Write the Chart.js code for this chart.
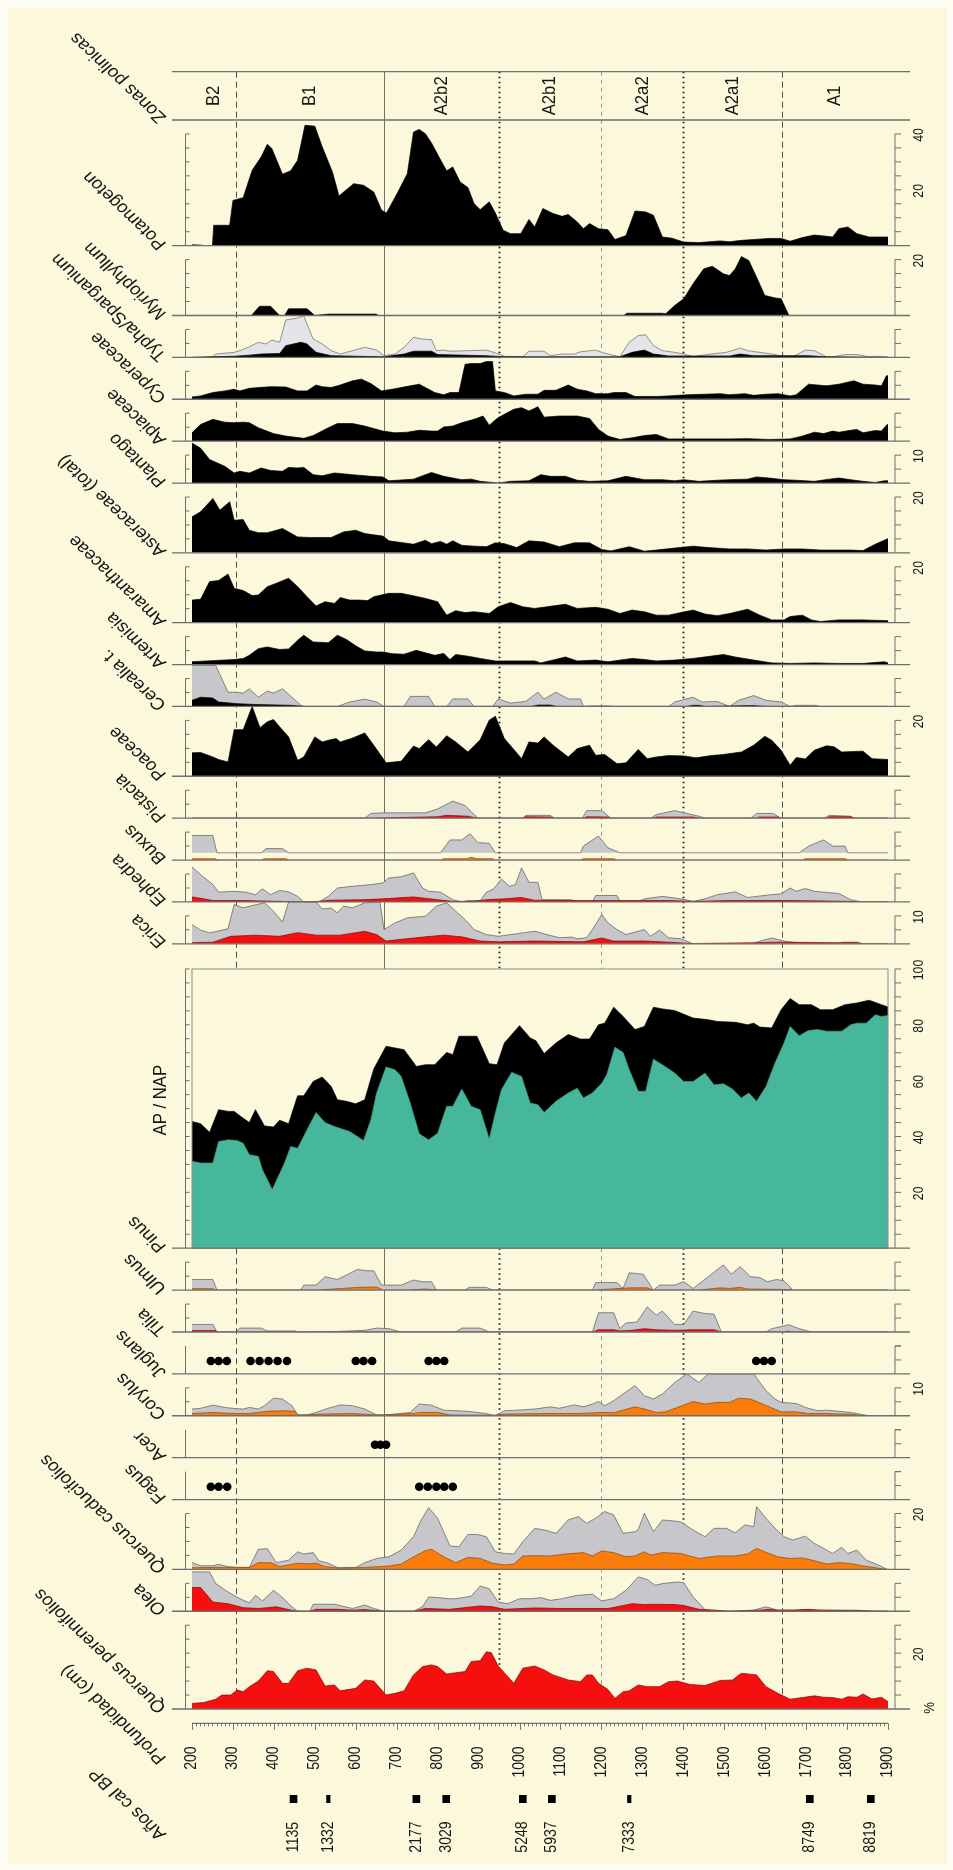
<!DOCTYPE html>
<html>
<head>
<meta charset="utf-8">
<title>Diagrama polínico</title>
<script src="https://cdn.jsdelivr.net/npm/chart.js@4.4.1/dist/chart.umd.min.js"></script>
<style>
  html, body { margin: 0; padding: 0; background: #fefdf5; }
  canvas { display: block; }
</style>
</head>
<body>
<canvas id="diagrama" width="953" height="1870"></canvas>
<script>
// ---------- depth axis ----------
const depthMin = 200;
const depthMax = 1900;
const depthTickLabels = ['200','300','400','500','600','700','800','900','1000','1100','1200','1300','1400','1500','1600','1700','1800','1900'];

// ---------- pollen zones ----------
const zoneNames = ['B2', 'B1', 'A2b2', 'A2b1', 'A2a2', 'A2a1', 'A1'];
const zoneBounds = [200, 308, 669, 950, 1200, 1400, 1640, 1900];
const zoneLineStyles = ['dashed', 'solid', 'dotted', 'thin', 'dotted', 'dashed'];

// ---------- radiocarbon dates (cal BP) ----------
const dateDepths = [448, 533, 748, 821, 1008, 1079, 1268, 1709, 1858];
const dateAges = ['1135', '1332', '2177', '3029', '5248', '5937', '7333', '8749', '8819'];
const dateNarrow = [false, true, false, false, false, false, true, false, false];

// ---------- taxa: [depth (cm), %] ----------
const potamogeton = [[200,0.3],[222,0.2],[228,0],[250,0],[253,7.3],[292,7.3],[300,16.2],[325,17.2],[347,27],[369,31.8],[384,36.3],[395,34.8],[421,25.6],[441,26.8],[458,30.6],[476,43.1],[500,42.8],[518,35.4],[543,26.4],[559,17.8],[580,20.4],[595,22.2],[619,21.6],[644,19.2],[663,12.7],[675,11.7],[703,19.2],[726,25.8],[741,40.7],[755,41.6],[770,40.1],[785,36.8],[803,31.8],[822,26.8],[837,28.2],[855,22.8],[874,20.8],[889,15],[904,12.9],[926,15.7],[941,11.7],[960,5.5],[978,4.3],[1003,4.3],[1023,9.4],[1037,6.7],[1057,13.3],[1082,11.5],[1104,10.5],[1119,11.2],[1141,8.5],[1156,6.1],[1171,7.9],[1193,6.1],[1216,5.7],[1233,2.2],[1260,3.6],[1282,12.4],[1308,12.1],[1327,10.9],[1349,3.1],[1372,2.7],[1401,1.3],[1438,1.1],[1490,1.7],[1513,1.4],[1542,1.9],[1572,2.2],[1609,2.6],[1639,2.6],[1661,1.6],[1691,2.9],[1720,3.8],[1743,3.5],[1765,3.1],[1780,6.1],[1802,6.7],[1824,4.3],[1854,3.1],[1900,3.1]];

const myriophyllum = [[200,0],[345,0],[365,3.3],[392,3.3],[414,0],[426,0],[436,2.4],[481,2.4],[500,0],[533,0.5],[650,0.5],[655,0],[1255,0],[1262,0.8],[1349,0.8],[1357,0.6],[1379,3.6],[1401,6],[1424,11.4],[1450,16.7],[1471,17.6],[1498,14.9],[1513,14.3],[1527,16.7],[1542,21.1],[1560,19.7],[1579,13.7],[1599,7.2],[1624,6.3],[1639,6],[1658,0],[1900,0]];

const typhaExag = [[200,0],[236,0],[251,0.2],[258,1.2],[303,1.8],[317,2.4],[340,3.8],[362,5.4],[380,4.8],[395,6.2],[414,5.4],[429,13.4],[458,14.1],[473,14.9],[481,11.9],[496,6.6],[518,4.8],[540,2.4],[562,1.2],[592,2.4],[622,3.6],[651,2.6],[669,0.6],[696,1.2],[718,3.6],[741,7.2],[763,6.5],[785,6.4],[797,2.4],[815,2.6],[830,2.2],[919,2.6],[941,1.6],[963,0.4],[1008,0.2],[1023,2.2],[1060,2.2],[1075,0.6],[1104,1.2],[1134,1.2],[1149,2],[1186,2.6],[1201,1.8],[1216,1.2],[1245,0.2],[1268,5.4],[1290,7.8],[1308,8.1],[1327,4.2],[1349,2.4],[1379,1.8],[1401,1.2],[1424,0.2],[1438,0.6],[1468,1.2],[1505,1.8],[1539,3.3],[1557,2.4],[1587,1.8],[1624,1],[1646,0.2],[1668,0.2],[1698,2.6],[1720,2.4],[1750,0.2],[1765,0.2],[1795,1],[1824,1],[1854,0.2],[1869,0.4],[1891,0.2],[1900,0.2]];
const typha = [[200,0],[243,0.2],[303,0.4],[340,0.8],[369,1.2],[414,1.4],[429,4.2],[466,5.4],[481,4.8],[503,1.8],[540,0.6],[669,0.2],[718,1.2],[741,2.2],[785,2.2],[800,1],[919,0.6],[963,0.2],[1245,0.2],[1275,1.8],[1305,2.6],[1327,1.2],[1364,0.5],[1513,0.5],[1539,1.2],[1572,0.6],[1706,0.6],[1750,0.2],[1900,0]];

const cyperaceae = [[200,0.8],[221,1.2],[251,2.4],[280,3],[303,3.6],[317,3],[340,3.9],[362,4.2],[392,4.5],[429,4.4],[458,3],[481,3],[503,5.1],[518,4.5],[540,4.2],[562,5.1],[592,6.6],[614,7.2],[637,5.6],[663,3],[689,3.6],[711,4.2],[733,4.8],[755,5.4],[770,4.2],[793,2.4],[815,1.6],[830,2.4],[852,2.4],[867,12.5],[882,12.8],[904,12.8],[919,13.5],[934,13.5],[941,3],[963,2.4],[986,1.2],[1015,1.8],[1045,1.8],[1060,3.2],[1089,3.2],[1119,5.1],[1141,3.6],[1164,3],[1186,2],[1216,2],[1230,2.4],[1260,2.4],[1282,1],[1334,1],[1364,1.2],[1409,1.6],[1453,1.8],[1490,2],[1513,1.6],[1550,2],[1572,1.4],[1602,1.8],[1631,2],[1661,1.2],[1676,1.6],[1706,5.4],[1728,5.1],[1750,4.8],[1780,5.4],[1817,6.6],[1839,5.4],[1869,5.1],[1884,4.8],[1896,8.4],[1900,8.4]];

const apiaceae = [[200,3],[221,6],[251,7.8],[280,6.8],[303,6.6],[325,6.8],[340,6.6],[362,4.8],[399,2.7],[429,1.8],[473,1],[496,2],[533,4.8],[555,6.3],[592,6.3],[622,5.4],[666,3.6],[696,3],[726,3.2],[755,3.9],[785,3.6],[800,3.6],[815,5.1],[837,5.4],[859,6.6],[889,7.8],[911,9],[926,5.7],[945,8.1],[963,9.6],[986,11.4],[1005,12],[1023,10.8],[1045,12.3],[1060,8.6],[1097,9],[1141,9],[1171,8.1],[1193,4.2],[1216,1.8],[1245,0.6],[1275,1.2],[1305,2],[1334,2.4],[1364,0.8],[1513,0.8],[1557,0.9],[1609,0.6],[1661,0.8],[1691,1.8],[1720,3.2],[1743,2.7],[1765,3.6],[1780,3.2],[1809,3.9],[1824,4.2],[1839,3],[1869,3.8],[1884,3.6],[1898,6],[1900,6]];

const plantago = [[200,14.3],[221,12.5],[243,8.4],[280,6],[303,3.6],[317,4.2],[340,3.6],[369,5.4],[392,4.5],[421,4.2],[436,5.6],[458,5.4],[473,5.6],[496,3],[518,2.6],[548,3.6],[592,3],[637,2.4],[666,2.2],[681,0.8],[741,1.4],[785,3.8],[815,2.4],[859,1.2],[882,1.4],[904,0.6],[934,0.2],[948,0],[978,0.6],[1023,0.8],[1052,3],[1075,2.4],[1112,2.4],[1141,1],[1171,0.6],[1216,0.8],[1260,2.4],[1282,1.8],[1305,1.2],[1349,1.2],[1379,0.8],[1401,1.2],[1438,0.6],[1483,1],[1513,1.2],[1557,1.4],[1579,2.2],[1609,1.8],[1646,1.2],[1676,1],[1720,0.6],[1757,1.4],[1780,1.8],[1809,1.2],[1839,0.6],[1869,0.2],[1891,0.8],[1900,0.8]];

const asteraceae = [[200,12.9],[221,14.7],[251,19.5],[268,15.3],[292,18.3],[303,11.7],[325,11.9],[340,8.1],[362,7.2],[384,7.2],[421,8.7],[458,5.7],[488,5.5],[540,5.5],[570,7.5],[600,8.1],[622,6.9],[666,6],[681,4.3],[741,3.1],[770,4.5],[785,3.3],[807,4.1],[822,3.1],[837,4.3],[859,2.7],[889,2.4],[919,2.2],[941,3.6],[963,3.3],[993,1.9],[1023,4.3],[1060,3.9],[1097,2.2],[1134,3.6],[1171,3.6],[1201,1.2],[1223,0.7],[1268,2.2],[1305,0.6],[1334,1],[1379,1.7],[1424,2.4],[1461,1.9],[1513,1.4],[1557,1.4],[1602,1],[1646,1.4],[1691,1.4],[1735,1],[1809,1],[1839,0.8],[1869,3.1],[1900,5.1]];

const amaranthaceae = [[200,8.1],[221,8.4],[243,14.7],[265,15.1],[288,17.4],[303,12.3],[325,11.5],[347,9.7],[362,9.9],[384,12.9],[406,14.1],[436,15.9],[458,12.9],[481,9.3],[503,6],[525,7.5],[548,6.9],[562,9],[585,8.1],[607,8.1],[629,7.9],[644,9.3],[681,10.5],[711,10.5],[741,9.6],[770,8.7],[800,7.5],[822,2.7],[844,4.3],[867,3.6],[889,3.9],[926,3.3],[948,5.7],[978,7.2],[1008,5.7],[1037,5.1],[1067,5.7],[1112,6.6],[1141,5.1],[1186,5.5],[1216,4.8],[1245,3.3],[1275,4.5],[1305,3.9],[1334,2.7],[1364,2.7],[1394,3.6],[1424,4.5],[1453,3.1],[1483,2.5],[1513,3.3],[1557,4.8],[1587,2.7],[1616,1],[1646,1],[1661,2.2],[1691,2.7],[1713,1],[1735,0.4],[1780,1],[1839,1],[1900,0.7]];

const artemisia = [[200,1],[236,1.3],[303,1.8],[325,2.2],[340,3.3],[362,5.7],[384,6.3],[414,5.4],[436,5.6],[458,8.7],[473,10.5],[496,8.1],[533,7.8],[555,10.5],[577,9],[600,6.7],[622,4.9],[651,4.5],[666,4.5],[689,3.9],[718,3.7],[748,5.1],[770,4.2],[793,3.3],[815,4],[830,1.8],[844,3.6],[874,3],[904,2.2],[919,1.8],[941,1.3],[978,1.3],[1037,1.3],[1052,0.6],[1082,1.6],[1112,2.7],[1141,1.3],[1186,1.6],[1216,1],[1275,2.2],[1305,1.8],[1334,1.3],[1379,1.6],[1424,2.2],[1483,3.3],[1498,3.6],[1527,2.7],[1572,1.6],[1616,0.6],[1661,0.4],[1720,0.6],[1780,0.4],[1839,0.4],[1891,1],[1900,0.6]];

const cerealiaExag = [[200,14.7],[258,14.7],[288,5.1],[303,5.1],[325,4.8],[340,6.3],[362,3.3],[384,5.5],[399,4.8],[421,6.3],[444,3.3],[466,0.4],[473,0],[555,0],[585,1.6],[622,2.6],[651,1.6],[669,0],[718,0],[733,3.6],[778,3.6],[793,0],[822,0],[837,2.7],[874,2.7],[889,0],[934,0],[948,2.7],[978,1.2],[1015,1.8],[1045,5.1],[1060,2.7],[1089,5.1],[1119,2.7],[1149,2.7],[1156,0],[1178,0.2],[1216,0.2],[1230,0],[1364,0],[1379,1.6],[1424,3.3],[1446,1.6],[1483,1.8],[1513,0],[1535,2.2],[1572,3.9],[1602,2.2],[1639,1.6],[1661,0],[1676,0.4],[1720,0.4],[1735,0],[1900,0]];
const cerealia = [[200,2.2],[221,3.3],[251,3],[265,1.6],[310,1],[355,0.7],[444,0.4],[473,0],[1030,0],[1045,0.5],[1075,0.5],[1090,0],[1409,0],[1424,0.4],[1438,0.4],[1453,0],[1572,0.3],[1600,0],[1900,0]];

const poaceae = [[200,8.4],[221,8.5],[251,6.9],[265,6],[288,5.1],[303,16.7],[325,16.7],[347,25],[366,17.4],[384,19.5],[399,20.3],[414,17.7],[436,14.1],[458,5.7],[473,6.9],[500,14.1],[518,12.3],[533,12.9],[552,13.5],[562,12.3],[589,13.5],[622,15.5],[644,11.1],[674,4.8],[711,5.4],[741,10.8],[755,9.9],[778,13.1],[797,10.5],[822,14.5],[844,12.3],[874,8.7],[904,13.1],[926,20.1],[941,21.5],[963,13.5],[986,9.6],[1005,6.3],[1023,12.3],[1045,11.9],[1060,14.1],[1082,11.1],[1119,6.9],[1141,9.9],[1171,11.1],[1186,7.5],[1208,7.8],[1238,4.5],[1260,4.8],[1290,9.6],[1312,6.3],[1334,6.9],[1364,7.4],[1401,7.3],[1431,6.6],[1468,7.4],[1498,7.8],[1542,8.7],[1572,11.1],[1599,14.3],[1616,12.9],[1639,9.3],[1661,3.9],[1676,6.7],[1698,6.2],[1720,9.3],[1750,10.9],[1768,10.6],[1787,8.7],[1839,9],[1861,6.3],[1900,6]];

const pistaciaExag = [[200,0],[622,0],[637,1.7],[666,1.9],[770,1.9],[800,3.3],[837,6.1],[867,4.5],[889,1.3],[899,0],[1008,0],[1015,1],[1075,1],[1085,0],[1153,0],[1164,2.7],[1201,2.7],[1223,0],[1320,0],[1334,1.3],[1379,2.7],[1438,0.7],[1453,0],[1565,0],[1579,1.7],[1619,1.7],[1639,0],[1743,0],[1757,1],[1809,0.7],[1817,0],[1900,0]];
const pistacia = [[200,0],[637,0],[800,0.5],[822,1],[874,0.7],[896,0],[1008,0],[1015,0.5],[1075,0.4],[1085,0],[1157,0],[1164,0.5],[1216,0.4],[1223,0],[1327,0],[1334,0.4],[1424,0.4],[1438,0],[1579,0],[1585,0.4],[1631,0.4],[1639,0],[1750,0],[1757,0.5],[1809,0.5],[1817,0],[1900,0]];

const buxusExagBase = 2.6;
const buxusExag = [[200,8.8],[251,8.8],[261,2.6],[369,2.6],[381,4.1],[421,4.1],[436,2.6],[807,2.6],[830,7.2],[859,7.2],[879,9.4],[899,6.2],[926,6],[941,2.6],[1149,2.6],[1156,5],[1193,8.6],[1216,4.4],[1245,2.6],[1683,2.6],[1706,5],[1743,7.2],[1765,5],[1795,5],[1802,2.6],[1900,2.6]];
const buxus = [[200,0.5],[258,0.5],[261,0],[369,0],[377,0.5],[429,0.5],[436,0],[807,0],[815,0.5],[870,0.5],[882,1],[896,0.5],[934,0.5],[941,0],[1149,0],[1156,0.5],[1230,0.5],[1238,0],[1691,0],[1698,0.5],[1795,0.5],[1802,0],[1900,0]];

const ephedraExag = [[200,12.5],[221,9.8],[251,6.2],[265,3.5],[303,3.8],[332,3.5],[355,2.6],[372,4.7],[392,2.6],[414,4.1],[436,3.6],[458,2],[473,0],[510,0],[533,2],[555,5],[592,5.6],[637,6.2],[666,6.8],[681,8.6],[711,9],[741,10.4],[763,5],[778,3.8],[807,3.5],[837,0.8],[859,0],[874,0.5],[904,0.5],[919,3.5],[937,4.7],[956,8.2],[975,5.6],[990,6.2],[1005,12.2],[1023,7],[1045,7],[1055,0.8],[1127,0.8],[1141,0],[1178,0],[1186,2.3],[1238,2.3],[1245,0.2],[1290,0.2],[1305,1.1],[1349,2],[1394,1.1],[1424,0.2],[1453,1.1],[1483,2.6],[1527,3.6],[1557,1.6],[1609,2.5],[1639,2.9],[1661,5],[1676,3.8],[1698,4.8],[1720,3.8],[1743,3.5],[1780,3],[1809,0.8],[1836,0],[1900,0]];
const ephedra = [[200,1.8],[221,1.3],[251,0.5],[325,0.5],[473,0],[510,0.2],[533,0.6],[622,0.8],[666,1.1],[741,1.8],[800,0.8],[837,0.2],[889,0.2],[919,0.8],[963,1.1],[1005,1.6],[1037,0.6],[1127,0.5],[1290,0.5],[1364,0.5],[1424,0.2],[1513,0.5],[1661,0.5],[1809,0.2],[1836,0],[1900,0]];

const ericaExag = [[200,6.9],[221,4.9],[243,3.9],[288,5.4],[303,14.1],[325,12.9],[347,13.7],[377,14.7],[399,11.7],[421,7.8],[436,15],[503,15],[518,12.5],[540,12.8],[555,11.1],[570,13.5],[592,12.9],[622,14.7],[659,15],[669,5.1],[696,7.5],[726,9.3],[770,9.9],[797,13.5],[822,14.7],[844,11.7],[867,8.7],[889,5.1],[919,3.3],[948,2.7],[1008,3.9],[1037,4.5],[1067,3.3],[1097,2.2],[1127,2.4],[1141,1.8],[1164,2.2],[1178,5.1],[1201,10.5],[1216,7.5],[1238,5.1],[1260,3.3],[1282,4.2],[1305,5.1],[1320,2.7],[1342,4.9],[1364,2.2],[1394,1.8],[1424,0],[1572,0],[1579,0.6],[1616,2.1],[1646,1],[1676,0.4],[1780,0],[1787,0.6],[1824,0.6],[1839,0],[1900,0]];
const erica = [[200,0.4],[251,0.6],[295,2.7],[355,3.1],[414,2.7],[458,4],[503,3.1],[562,3.1],[622,4.5],[651,3.3],[674,1],[711,1.6],[770,2.5],[815,3.1],[859,2.5],[904,1],[948,0.7],[1037,1],[1156,0.7],[1201,2.1],[1230,1],[1305,1],[1364,0.6],[1424,0.1],[1572,0.4],[1631,0.6],[1780,0.4],[1824,0.4],[1839,0],[1900,0]];

// arboreal pollen total (AP) and Pinus, % of the pollen sum
const arborealTotal = [[200,45.4],[221,44.6],[243,41.5],[265,49.6],[288,49],[303,49],[317,47.4],[340,45],[355,49.6],[377,43.8],[399,43.4],[414,45.8],[436,44.6],[458,54.6],[473,54.6],[496,59.7],[518,61.3],[540,57.9],[555,53.2],[577,52.6],[600,51.7],[622,53.2],[644,64.2],[674,72.3],[696,71.7],[718,71.1],[748,65.1],[770,65.7],[793,65.7],[822,70.1],[837,69.3],[852,75.9],[896,75.9],[926,66.1],[945,65.7],[963,73.5],[1000,79.7],[1026,75.3],[1040,74.3],[1060,69.7],[1089,73.5],[1119,76.5],[1149,74.9],[1171,74.9],[1193,80],[1208,80.6],[1230,86.3],[1253,83],[1282,78.3],[1305,79.4],[1327,86.3],[1349,85.7],[1379,85.1],[1424,82.4],[1461,81.8],[1483,81.2],[1527,80.9],[1557,80],[1572,80.6],[1587,79.2],[1616,78.9],[1639,85.4],[1661,89.4],[1683,87.2],[1713,87.2],[1735,85.4],[1765,85.4],[1795,87.2],[1824,87.8],[1854,88.8],[1884,87.2],[1900,86.4]];
const pinus = [[200,31.1],[221,30.5],[251,30.5],[265,38.2],[288,38.8],[310,38.6],[325,37.6],[340,33.5],[362,32.9],[372,28.1],[396,21],[426,30.5],[441,36.4],[458,35.8],[481,42.4],[503,48.6],[525,45],[548,43.6],[585,41.8],[619,38.6],[637,46],[651,55.6],[674,64.9],[696,63.9],[711,61.5],[733,52],[755,41],[778,38.8],[800,41.2],[822,50.8],[837,50.8],[859,57],[882,50.8],[904,49.6],[926,39.1],[941,48.4],[956,56.8],[981,63],[1005,61.5],[1026,52],[1045,51.4],[1060,48.6],[1089,52.6],[1119,55.6],[1141,57.3],[1156,53.8],[1178,55.6],[1201,59.1],[1213,62.1],[1233,72],[1253,70.1],[1268,63.9],[1290,56.2],[1308,56.2],[1327,67.7],[1349,65.7],[1379,62.7],[1401,59.7],[1424,59.7],[1453,62.7],[1475,58.5],[1498,58.9],[1520,57],[1542,53.8],[1560,55.6],[1579,52.6],[1602,57.9],[1624,66.3],[1646,73.5],[1661,79.4],[1683,76.1],[1706,78],[1728,78.3],[1750,77.7],[1787,77.7],[1809,80],[1824,80.6],[1847,80.6],[1869,83.6],[1884,83],[1900,83.3]];

const ulmusExag = [[200,3.8],[251,3.8],[261,0],[466,0],[473,1.8],[503,1.8],[525,4.8],[555,3.8],[577,5.4],[604,7.4],[629,6.9],[644,6.9],[663,1.8],[711,1.8],[741,3.6],[763,3],[785,3],[797,0],[867,0],[877,1],[919,1],[934,0],[1178,0],[1186,2.7],[1238,2.7],[1253,0.6],[1268,6.2],[1302,5.7],[1327,0],[1342,1.8],[1379,1.8],[1401,3],[1424,0.6],[1461,4.8],[1498,9],[1517,5.7],[1539,8.4],[1564,4.8],[1587,4.5],[1605,3],[1628,3.8],[1646,3.3],[1668,0],[1900,0]];
const ulmus = [[200,0.5],[251,0.5],[258,0],[503,0],[577,0.7],[607,1],[651,1.1],[666,0],[726,0],[770,0.4],[800,0],[1186,0],[1201,0.2],[1268,0.8],[1312,0.8],[1327,0],[1438,0],[1490,0.8],[1513,0.6],[1539,1],[1557,0.4],[1661,0.2],[1668,0],[1900,0]];

const tiliaExag = [[200,2.7],[251,2.7],[261,0],[307,0],[317,1.4],[369,1.4],[384,0.4],[451,0.4],[458,0],[555,0.2],[622,0.6],[651,1.4],[681,1.2],[711,0],[844,0],[859,1.4],[904,1.4],[926,0],[1178,0],[1193,6.9],[1230,6.9],[1245,1.2],[1260,3.2],[1287,3.6],[1312,9],[1334,6],[1349,7.5],[1379,2.7],[1401,2.7],[1424,7.5],[1453,6.6],[1475,6.4],[1493,0],[1602,0],[1616,1.2],[1658,2.6],[1683,1.2],[1713,0],[1900,0]];
const tilia = [[200,0.5],[258,0.5],[261,0],[1178,0],[1193,0.8],[1230,0.8],[1245,0.4],[1275,0.6],[1305,1.2],[1334,0.8],[1379,0.6],[1424,0.8],[1475,0.8],[1493,0],[1646,0],[1654,0.3],[1668,0],[1900,0]];

// presence-only taxa: depths (cm) where grains were found
const juglans = [246, 265, 285, 343, 365, 387, 409, 432, 600, 619, 640, 778, 797, 816, 1578, 1597, 1616];
const acer = [647, 660, 674];
const fagus = [246, 265, 286, 755, 776, 797, 816, 837];
const presenceLevel = 4.6;

const corylusExag = [[200,2.4],[221,2.7],[251,3.8],[280,3],[303,2.6],[325,2.4],[340,3],[362,2.4],[377,3.6],[399,6.3],[421,6],[444,3.6],[458,0.4],[481,0.3],[503,1.2],[533,2.7],[562,3.9],[592,3.6],[622,2.4],[651,0.3],[669,0.2],[696,0.6],[733,1.2],[755,4.2],[785,3.8],[815,2],[874,1.6],[919,0.8],[941,0],[963,1.8],[993,2],[1037,2.4],[1075,3.2],[1097,2.7],[1134,3.9],[1156,3.2],[1178,4.2],[1193,5.1],[1208,3.6],[1230,5.4],[1253,7.8],[1282,10.8],[1305,7.2],[1327,6],[1349,7.8],[1379,11.9],[1409,15],[1438,11.9],[1461,15],[1572,15],[1602,9],[1624,6],[1639,4.8],[1676,4.4],[1698,3],[1728,1.8],[1750,2],[1780,1.6],[1809,1.2],[1839,0.4],[1854,0],[1900,0]];
const corylus = [[200,0.8],[251,1.2],[303,0.8],[340,0.8],[384,1.6],[429,1.8],[451,1.6],[461,0.2],[518,0.6],[592,0.8],[651,0.3],[741,0.8],[755,1.2],[800,1.2],[830,0.3],[934,0.2],[963,0.6],[1067,0.8],[1141,0.8],[1201,1.2],[1230,1.1],[1282,3.2],[1305,2.4],[1334,1.2],[1357,1.4],[1424,5.1],[1453,4.2],[1483,4.8],[1513,4.8],[1535,6.3],[1564,6],[1594,4.2],[1639,1.4],[1676,1.4],[1706,0.8],[1750,0.8],[1780,0.6],[1809,0.6],[1839,0],[1900,0]];

const quercusCadExag = [[200,2.4],[221,1.3],[251,1.3],[265,1.8],[288,1],[310,0.7],[340,0.7],[362,7.2],[384,7.4],[406,2.4],[436,3.3],[458,6.3],[473,5.5],[496,6],[510,3.1],[533,2.2],[555,0.7],[600,0.7],[622,2.4],[651,3.9],[681,4.5],[711,6.9],[741,11.7],[760,17.7],[778,22.1],[800,18.3],[830,8.4],[852,8.1],[874,12.5],[896,12.5],[919,11.7],[941,6.3],[963,5.7],[986,5.5],[1008,9.9],[1037,14.7],[1067,13.9],[1089,12.9],[1119,17.7],[1144,18.9],[1164,16.5],[1186,18.3],[1208,20.7],[1230,19.5],[1253,12.9],[1282,13.5],[1290,14.3],[1305,20.1],[1327,13.5],[1349,17.7],[1372,17.4],[1394,17],[1424,14.1],[1453,11.7],[1475,14.7],[1505,14.7],[1527,13.1],[1550,15.9],[1572,15.3],[1579,22.5],[1602,18.3],[1624,14.7],[1646,11.7],[1668,10.5],[1698,11.9],[1720,9.3],[1743,7.5],[1765,5.7],[1787,7.9],[1802,5.7],[1824,6.9],[1847,3.3],[1876,1.6],[1898,0],[1900,0]];
const quercusCad = [[200,0.6],[251,0.7],[340,0.7],[362,2.4],[392,2.4],[414,1],[436,1.6],[458,2.2],[481,2],[503,2.2],[525,1],[562,0.4],[622,0.7],[681,1.2],[711,1.9],[741,4.5],[770,6.7],[785,7.2],[815,4.5],[844,2.4],[874,4.3],[904,3.9],[934,2.2],[963,1.6],[986,1.9],[1008,4.8],[1037,4.9],[1075,4.8],[1112,5.5],[1156,6],[1178,4.8],[1201,6.6],[1230,6],[1260,4.5],[1282,4.8],[1305,6.3],[1320,5.1],[1349,6],[1394,5.7],[1438,3.9],[1483,4.8],[1527,4.8],[1557,5.5],[1579,7.5],[1602,6.1],[1631,4.5],[1661,3.9],[1691,4.1],[1720,3.1],[1750,1.9],[1780,2.4],[1809,2.1],[1839,1.2],[1869,0.6],[1896,0],[1900,0]];

const oleaExag = [[200,14.1],[243,14.1],[258,9.9],[288,6.9],[317,4.5],[340,3],[355,5.7],[372,3.7],[399,7.5],[421,4.9],[444,1.6],[458,0],[488,0],[496,2.5],[548,2.5],[592,1],[622,2.2],[644,1],[669,0],[741,0],[763,1.6],[778,5.1],[800,4.9],[827,4.5],[844,4.5],[862,4.9],[882,5.4],[904,9],[926,8.1],[948,3.3],[971,2.7],[1000,4.5],[1030,4.5],[1052,4.9],[1075,3.9],[1104,4.5],[1141,5.7],[1178,6.1],[1201,3.7],[1230,4.5],[1260,7.5],[1290,12.3],[1312,11.4],[1331,9.3],[1349,9.9],[1386,10.5],[1401,10.2],[1424,5.1],[1453,0.6],[1513,0],[1572,0.4],[1602,1.6],[1631,0.4],[1668,0.4],[1691,0.6],[1728,0.4],[1809,0.4],[1824,0.4],[1869,0],[1900,0]];
const olea = [[200,8.5],[221,8.5],[251,3.3],[288,2.7],[325,1.3],[362,1],[384,1.3],[406,1.6],[436,0.6],[458,0],[488,0],[503,0.7],[555,0.7],[592,0.4],[622,0.6],[669,0],[741,0],[770,1],[830,0.7],[859,1.2],[904,1.9],[934,1.6],[963,0.7],[1037,1.2],[1097,1],[1156,1],[1216,1],[1245,1.8],[1275,2.7],[1305,2.4],[1334,2.5],[1379,2.4],[1401,2.1],[1438,0.7],[1513,0],[1587,0.4],[1609,0.7],[1631,0.4],[1676,0.4],[1706,0.7],[1735,0.4],[1824,0.2],[1900,0]];

const quercusPer = [[200,2],[228,2.3],[258,3.5],[273,5],[295,5],[310,6.8],[325,6.2],[340,8],[362,10],[384,13.7],[399,13.4],[421,9.2],[436,9.2],[458,13.7],[481,14.6],[503,14],[525,8.2],[548,8.6],[562,6.5],[600,7.4],[622,10.4],[644,10],[674,5],[696,5.6],[718,6.5],[741,12.2],[763,15.2],[785,15.8],[800,15.2],[822,12.5],[844,13],[867,13.4],[882,17],[904,17.3],[919,20.5],[931,20.2],[948,15.4],[986,9.2],[1008,14.6],[1037,15.4],[1060,14],[1082,12.2],[1119,10.4],[1149,9.8],[1164,12.2],[1178,12.2],[1193,9.2],[1216,7],[1233,3.8],[1253,6.2],[1268,6.5],[1290,8.6],[1312,8],[1342,8],[1364,9.8],[1386,10],[1416,8.8],[1453,8.4],[1490,10.2],[1520,10.4],[1542,12.8],[1579,12.2],[1602,8],[1631,5.6],[1661,3.5],[1691,4.1],[1720,4.7],[1743,4.2],[1765,4.1],[1787,3.5],[1802,4.4],[1824,4.2],[1839,5.4],[1861,3.6],[1884,4.2],[1900,2.6]];

// ---------- drawing setup ----------
const PX_PER_PERCENT = 2.7926;          // every strip shares one percentage scale
const ZONE_STRIP_PX = 48.3;
const DEPTH_AXIS_PX = 86;
const DATE_MARK_PX = 8;
const FONT = '"Liberation Sans", Arial, Helvetica, sans-serif';
const TEXT_SQUEEZE = 0.88;

const palette = {
  black:  { bg: '#000000', line: '#000000' },
  gray:   { bg: '#c6c6cb', line: '#5a5a5a' },
  pale:   { bg: '#e3e3e8', line: '#6a6a6a' },
  red:    { bg: '#f50f0f', line: '#8e0000' },
  orange: { bg: '#fa7d0c', line: '#8e4600' },
  teal:   { bg: '#47b79b', line: '#3c9f86' }
};

// strips from top to bottom; within a strip the last series is drawn in front
const panels = [
  { key: 'potamogeton', label: 'Potamogeton', max: 45, ticksRight: [20, 40], series: [{ data: potamogeton, style: 'black' }] },
  { key: 'myriophyllum', label: 'Myriophyllum', max: 25, ticksRight: [20], series: [{ data: myriophyllum, style: 'black' }] },
  { key: 'typha', label: 'Typha/Sparganium', max: 15, ticksRight: [], series: [{ data: typhaExag, style: 'pale' }, { data: typha, style: 'black' }] },
  { key: 'cyperaceae', label: 'Cyperaceae', max: 15, ticksRight: [], series: [{ data: cyperaceae, style: 'black' }] },
  { key: 'apiaceae', label: 'Apiaceae', max: 15, ticksRight: [], series: [{ data: apiaceae, style: 'black' }] },
  { key: 'plantago', label: 'Plantago', max: 15, ticksRight: [10], series: [{ data: plantago, style: 'black' }] },
  { key: 'asteraceae', label: 'Asteraceae (total)', max: 25, ticksRight: [20], series: [{ data: asteraceae, style: 'black' }] },
  { key: 'amaranthaceae', label: 'Amaranthaceae', max: 25, ticksRight: [20], series: [{ data: amaranthaceae, style: 'black' }] },
  { key: 'artemisia', label: 'Artemisia', max: 15, ticksRight: [], series: [{ data: artemisia, style: 'black' }] },
  { key: 'cerealia', label: 'Cerealia t.', max: 15, ticksRight: [], series: [{ data: cerealiaExag, style: 'gray' }, { data: cerealia, style: 'black' }] },
  { key: 'poaceae', label: 'Poaceae', max: 25, ticksRight: [20], series: [{ data: poaceae, style: 'black' }] },
  { key: 'pistacia', label: 'Pistacia', max: 15, ticksRight: [], series: [{ data: pistaciaExag, style: 'gray' }, { data: pistacia, style: 'red' }] },
  { key: 'buxus', label: 'Buxus', max: 15, ticksRight: [], series: [{ data: buxusExag, style: 'gray', base: buxusExagBase }, { data: buxus, style: 'orange' }] },
  { key: 'ephedra', label: 'Ephedra', max: 15, ticksRight: [], series: [{ data: ephedraExag, style: 'gray' }, { data: ephedra, style: 'red' }] },
  { key: 'erica', label: 'Erica', max: 15, ticksRight: [10], series: [{ data: ericaExag, style: 'gray' }, { data: erica, style: 'red' }] },
  { key: 'apnap', label: 'Pinus', max: 109, ticksRight: [20, 40, 60, 80, 100], frame: 100, series: [{ data: arborealTotal, style: 'black' }, { data: pinus, style: 'teal' }] },
  { key: 'ulmus', label: 'Ulmus', max: 15, ticksRight: [], series: [{ data: ulmusExag, style: 'gray' }, { data: ulmus, style: 'orange' }] },
  { key: 'tilia', label: 'Tilia', max: 15, ticksRight: [], series: [{ data: tiliaExag, style: 'gray' }, { data: tilia, style: 'red' }] },
  { key: 'juglans', label: 'Juglans', max: 15, ticksRight: [], dots: juglans },
  { key: 'corylus', label: 'Corylus', max: 15, ticksRight: [10], series: [{ data: corylusExag, style: 'gray' }, { data: corylus, style: 'orange' }] },
  { key: 'acer', label: 'Acer', max: 15, ticksRight: [], dots: acer },
  { key: 'fagus', label: 'Fagus', max: 15, ticksRight: [], dots: fagus },
  { key: 'quercusCad', label: 'Quercus caducifolios', max: 25, ticksRight: [20], series: [{ data: quercusCadExag, style: 'gray' }, { data: quercusCad, style: 'orange' }] },
  { key: 'olea', label: 'Olea', max: 15, ticksRight: [], series: [{ data: oleaExag, style: 'gray' }, { data: olea, style: 'red' }] },
  { key: 'quercusPer', label: 'Quercus perennifolios', max: 35, ticksRight: [20], series: [{ data: quercusPer, style: 'red' }] }
];

// ---------- scales: one stacked y axis per strip ----------
const scales = {
  x: { type: 'linear', min: depthMin, max: depthMax, offset: false, display: false },
  y_zonas: { type: 'linear', position: 'right', stack: 'diagrama', stackWeight: ZONE_STRIP_PX, weight: 0, min: 0, max: 1, display: false }
};
const datasets = [];

panels.forEach((p, i) => {
  const yID = 'y_' + p.key;
  scales[yID] = { type: 'linear', position: 'right', stack: 'diagrama', stackWeight: p.max * PX_PER_PERCENT, weight: i + 1, min: 0, max: p.max, display: false };
  (p.series || []).forEach((s, j) => {
    const c = palette[s.style];
    datasets.push({
      type: 'line',
      label: p.label,
      data: s.data.map(([d, v]) => ({ x: d, y: v })),
      xAxisID: 'x',
      yAxisID: yID,
      fill: s.base !== undefined ? { value: s.base } : 'origin',
      backgroundColor: c.bg,
      borderColor: c.line,
      borderWidth: 0.7,
      pointRadius: 0,
      tension: 0,
      order: p.series.length - 1 - j
    });
  });
  if (p.dots) {
    datasets.push({
      type: 'scatter',
      label: p.label,
      data: p.dots.map(d => ({ x: d, y: presenceLevel })),
      xAxisID: 'x',
      yAxisID: yID,
      pointRadius: 4.3,
      pointBackgroundColor: '#000000',
      pointBorderWidth: 0,
      order: 0
    });
  }
});

scales.y_profundidad = { type: 'linear', position: 'right', stack: 'diagrama', stackWeight: DEPTH_AXIS_PX, weight: panels.length + 1, min: 0, max: 1, display: false };
scales.y_fechas = { type: 'linear', position: 'right', stack: 'diagrama', stackWeight: DATE_MARK_PX, weight: panels.length + 2, min: 0, max: 1, display: false };

[false, true].forEach(narrow => {
  datasets.push({
    type: 'bar',
    label: 'Años cal BP',
    data: dateDepths.map((d, i) => ({ x: d, y: [0, 1], keep: dateNarrow[i] === narrow })).filter(o => o.keep).map(o => ({ x: o.x, y: o.y })),
    xAxisID: 'x',
    yAxisID: 'y_fechas',
    barThickness: narrow ? 3.5 : 7,
    grouped: false,
    backgroundColor: '#000000',
    borderWidth: 0,
    order: 0
  });
});

// ---------- helpers for the decorations ----------
function drawText(ctx, txt, x, y, deg, align, base, size) {
  ctx.save();
  ctx.translate(x, y);
  ctx.scale(1, TEXT_SQUEEZE);
  ctx.rotate(deg * Math.PI / 180);
  ctx.font = size + 'px ' + FONT;
  ctx.textAlign = align;
  ctx.textBaseline = base;
  ctx.fillStyle = '#161616';
  ctx.fillText(txt, 0, 0);
  ctx.restore();
}
function line(ctx, x1, y1, x2, y2, color, width, dash) {
  ctx.save();
  ctx.beginPath();
  ctx.strokeStyle = color;
  ctx.lineWidth = width;
  ctx.setLineDash(dash || []);
  ctx.moveTo(x1, y1);
  ctx.lineTo(x2, y2);
  ctx.stroke();
  ctx.restore();
}
const zoneLineLook = {
  dashed: { color: '#4d4d4d', width: 1, dash: [6, 4] },
  solid:  { color: '#4d4d4d', width: 0.8, dash: [] },
  dotted: { color: '#111111', width: 1.8, dash: [1.6, 3.4] },
  thin:   { color: '#7a7a7a', width: 0.8, dash: [4, 4] }
};

const diagramPlugin = {
  id: 'diagrama',
  beforeDraw(chart) {
    const ctx = chart.ctx;
    ctx.save();
    ctx.fillStyle = '#fefdf5';
    ctx.fillRect(0, 0, chart.width, chart.height);
    ctx.fillStyle = '#fcf8dc';
    ctx.fillRect(8, 8, chart.width - 14, chart.height - 14);
    ctx.restore();
  },
  beforeDatasetsDraw(chart) {
    const ctx = chart.ctx;
    const xs = chart.scales.x;
    const top = chart.scales.y_zonas.top;
    const bottom = chart.scales.y_quercusPer.bottom;
    const ap = chart.scales.y_apnap;
    const skipTop = ap.getPixelForValue(100);
    const skipBottom = ap.getPixelForValue(0);
    zoneBounds.slice(1, -1).forEach((d, i) => {
      const look = zoneLineLook[zoneLineStyles[i]];
      const x = Math.round(xs.getPixelForValue(d)) + 0.5;
      line(ctx, x, top, x, skipTop, look.color, look.width, look.dash);
      line(ctx, x, skipBottom, x, bottom, look.color, look.width, look.dash);
    });
  },
  afterDatasetsDraw(chart) {
    const ctx = chart.ctx;
    const xs = chart.scales.x;
    const left = xs.left, right = xs.right;
    const baseColor = '#6e6e6e';
    const axisL = left - 6.5, axisR = right + 7;

    // zone strip
    const zs = chart.scales.y_zonas;
    line(ctx, left - 20, zs.top, right + 22, zs.top, baseColor, 1.3);
    line(ctx, left - 20, zs.bottom, right + 22, zs.bottom, baseColor, 1.3);
    zoneNames.forEach((name, i) => {
      const mid = (zoneBounds[i] + zoneBounds[i + 1]) / 2;
      drawText(ctx, name, xs.getPixelForValue(mid), (zs.top + zs.bottom) / 2, -90, 'center', 'middle', 19);
    });
    drawText(ctx, 'Zonas polinicas', left - 25, zs.bottom - 3, -133, 'left', 'alphabetic', 19);

    // taxon strips
    panels.forEach(p => {
      const ys = chart.scales['y_' + p.key];
      const y0 = ys.getPixelForValue(0);
      const axisTop = 10 * Math.floor((p.max - 1) / 10);
      const yTop = ys.getPixelForValue(axisTop);
      if (p.frame) {
        ctx.save();
        ctx.strokeStyle = '#8c8c8c';
        ctx.lineWidth = 1;
        ctx.strokeRect(left, ys.getPixelForValue(p.frame), right - left, y0 - ys.getPixelForValue(p.frame));
        ctx.restore();
      }
      line(ctx, left - 20, y0, right + 22, y0, baseColor, 1.3);
      // left axis
      line(ctx, axisL, y0, axisL, yTop, baseColor, 1);
      // right axis
      line(ctx, axisR, y0, axisR, yTop, baseColor, 1);
      for (let v = 5; v <= axisTop; v += 5) {
        const y = ys.getPixelForValue(v);
        if (!p.dots) line(ctx, axisL, y, axisL + 4, y, baseColor, 1);
        line(ctx, axisR, y, axisR + 6, y, baseColor, 1);
      }
      if (p.dots) line(ctx, axisR, yTop, axisR + 6, yTop, baseColor, 1);
      p.ticksRight.forEach(v => {
        drawText(ctx, String(v), right + 31, ys.getPixelForValue(v) + 1, -90, 'center', 'middle', 14);
      });
      drawText(ctx, p.label, left - 25, y0 - 2, -133, 'left', 'alphabetic', 19);
    });

    // AP / NAP heading inside the arboreal strip
    const ap = chart.scales.y_apnap;
    drawText(ctx, 'AP / NAP', left - 31, ap.getPixelForValue(53), -90, 'center', 'middle', 19);

    // percent sign at the foot of the right axes
    const qp = chart.scales.y_quercusPer;
    drawText(ctx, '%', right + 42, qp.bottom - 1, -90, 'center', 'middle', 15);

    // depth axis
    const pr = chart.scales.y_profundidad;
    const ay = pr.top + 14.3;
    line(ctx, xs.getPixelForValue(depthMin), ay, xs.getPixelForValue(depthMax), ay, '#555555', 1);
    for (let d = depthMin; d <= depthMax; d += 10) {
      const x = Math.round(xs.getPixelForValue(d)) + 0.5;
      line(ctx, x, ay, x, ay + (d % 100 === 0 ? 6.5 : 3), '#555555', 0.8);
    }
    depthTickLabels.forEach(t => {
      drawText(ctx, t, xs.getPixelForValue(Number(t)), ay + 23, -90, 'right', 'middle', 16);
    });
    drawText(ctx, 'Profundidad (cm)', left - 25, pr.top + 49, -133, 'left', 'alphabetic', 19);

    // dates
    const fe = chart.scales.y_fechas;
    dateDepths.forEach((d, i) => {
      drawText(ctx, dateAges[i], xs.getPixelForValue(d), fe.bottom + 34, -90, 'center', 'middle', 16);
    });
    drawText(ctx, 'Años cal BP', left - 25, fe.bottom + 31, -133, 'left', 'alphabetic', 19);
  }
};

new Chart(document.getElementById('diagrama'), {
  type: 'line',
  data: { datasets },
  options: {
    responsive: false,
    maintainAspectRatio: false,
    devicePixelRatio: 1,
    animation: false,
    events: [],
    layout: { padding: { left: 192, right: 65, top: 71.7, bottom: 67 } },
    scales,
    plugins: { legend: { display: false }, tooltip: { enabled: false } }
  },
  plugins: [diagramPlugin]
});
</script>
</body>
</html>
